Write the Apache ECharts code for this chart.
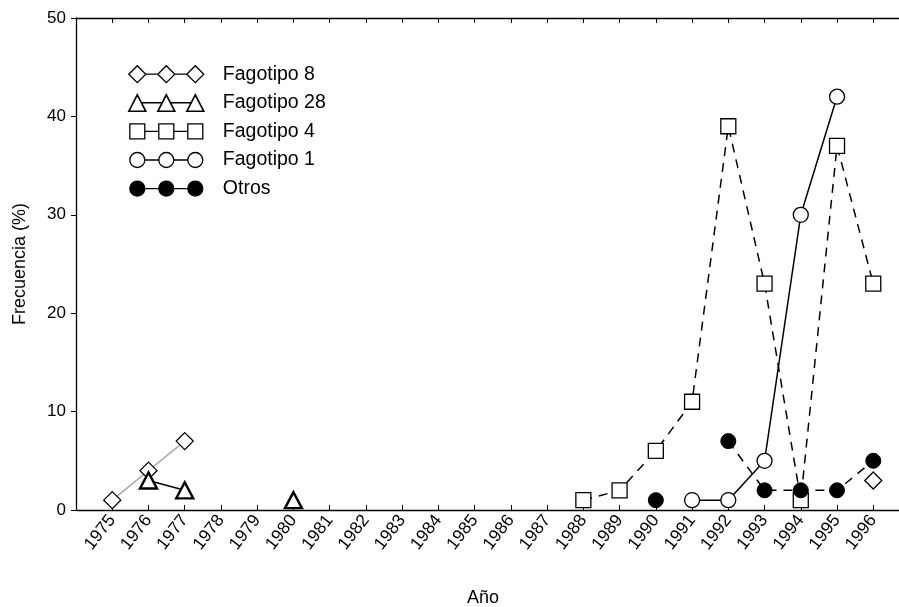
<!DOCTYPE html>
<html>
<head>
<meta charset="utf-8">
<script src="https://cdn.jsdelivr.net/npm/echarts@6/dist/echarts.min.js"></script>
<style>
html,body{margin:0;padding:0;background:#fff;}
#chart{width:899px;height:607px;}
</style>
</head>
<body>
<div id="chart"></div>
<script>
const years = [1975,1976,1977,1978,1979,1980,1981,1982,1983,1984,1985,1986,1987,1988,1989,1990,1991,1992,1993,1994,1995,1996];
const yTicks = [0,10,20,30,40,50];
const seriesNames = ['Fagotipo 8','Fagotipo 28','Fagotipo 4','Fagotipo 1','Otros'];
const fago8  = [1,4,7,null,null,null,null,null,null,null,null,null,null,null,null,null,null,null,null,null,null,3];
const fago28 = [null,3,2,null,null,1,null,null,null,null,null,null,null,null,null,null,null,null,null,null,null,null];
const fago4  = [null,null,null,null,null,null,null,null,null,null,null,null,null,1,2,6,11,39,23,1,37,23];
const fago1  = [null,null,null,null,null,null,null,null,null,null,null,null,null,null,null,null,1,1,5,30,42,null];
const otros  = [null,null,null,null,null,null,null,null,null,null,null,null,null,null,null,1,null,7,2,2,2,5];

function pairs(vals){ return years.map((y,i)=>[y, vals[i]]); }

// legend icons: three markers joined by a line (75 x 17 box)
const cx = [8.5, 37.5, 66.5];
function join(r){ return 'M'+(cx[0]+r)+' 8.5L'+(cx[1]-r)+' 8.5M'+(cx[1]+r)+' 8.5L'+(cx[2]-r)+' 8.5'; }
function diamondIcon(){ return 'path://' + cx.map(c=>'M'+(c-8.5)+' 8.5L'+c+' 0L'+(c+8.5)+' 8.5L'+c+' 17Z').join('') + join(8.5); }
function triIcon(){ return 'path://' + cx.map(c=>'M'+(c-8.5)+' 17L'+c+' 0.5L'+(c+8.5)+' 17Z').join('') + 'M'+(cx[0]+4.5)+' 8.5L'+(cx[1]-4.5)+' 8.5M'+(cx[1]+4.5)+' 8.5L'+(cx[2]-4.5)+' 8.5' + 'M0 0M75 17'; }
function rectIcon(){ return 'path://' + cx.map(c=>'M'+(c-7.5)+' 1L'+(c+7.5)+' 1L'+(c+7.5)+' 16L'+(c-7.5)+' 16Z').join('') + join(7.5) + 'M0 0M75 17'; }
function circIcon(){ const r=7.5; return 'path://' + cx.map(c=>'M'+(c-r)+' 8.5A'+r+' '+r+' 0 1 1 '+(c+r)+' 8.5A'+r+' '+r+' 0 1 1 '+(c-r)+' 8.5Z').join('') + join(r) + 'M0 0M75 17'; }

const chart = echarts.init(document.getElementById('chart'), null, {renderer:'canvas'});
const font = 'Liberation Sans, Arial, sans-serif';
const hollow = {color:'#fff', borderColor:'#000', borderWidth:1.3};
const xMin = 1974, xMax = 1996.71;

chart.setOption({
  backgroundColor:'#fff',
  animation:false,
  textStyle:{fontFamily:font, color:'#000'},
  grid:{left:76, top:18, right:0, bottom:97, containLabel:false, outerBoundsMode:'none'},
  legend:{
    orient:'vertical', left:128, top:64.2, padding:0,
    itemWidth:75, itemHeight:17, itemGap:8.6,
    textStyle:{fontSize:19.5, color:'#000', fontFamily:font, padding:[0,0,0,14]},
    data:[
      {name:seriesNames[0], icon:diamondIcon(), itemStyle:hollow},
      {name:seriesNames[1], icon:triIcon(), itemStyle:{color:'#fff', borderColor:'#000', borderWidth:1.6}},
      {name:seriesNames[2], icon:rectIcon(), itemStyle:hollow},
      {name:seriesNames[3], icon:circIcon(), itemStyle:hollow},
      {name:seriesNames[4], icon:circIcon(), itemStyle:{color:'#000', borderColor:'#000', borderWidth:1.3}}
    ]
  },
  xAxis:[{
    type:'value', min:xMin, max:xMax, interval:1,
    name:'Año', nameLocation:'middle', nameGap:79,
    nameTextStyle:{fontSize:18, color:'#000', fontFamily:font, padding:[0,9,0,0]},
    axisLine:{lineStyle:{color:'#000', width:1.3}},
    axisTick:{inside:true, length:5, lineStyle:{color:'#000'}},
    axisLabel:{rotate:52, fontSize:17.5, color:'#000', margin:7, fontFamily:font,
      formatter:function(v){ return years.indexOf(v) >= 0 ? String(v) : ''; }},
    splitLine:{show:false}
  },{
    type:'value', position:'top', min:xMin, max:xMax, interval:1,
    axisLine:{lineStyle:{color:'#000', width:1.3}},
    axisTick:{inside:true, length:5, lineStyle:{color:'#000'}},
    axisLabel:{show:false}, splitLine:{show:false}
  }],
  yAxis:{
    type:'value', min:yTicks[0], max:yTicks[yTicks.length-1], interval:10,
    name:'Frecuencia (%)', nameLocation:'middle', nameGap:47,
    nameTextStyle:{fontSize:18, color:'#000', fontFamily:font},
    axisLine:{show:true, lineStyle:{color:'#000', width:1.3}},
    axisTick:{show:true, inside:false, length:5, lineStyle:{color:'#000'}},
    axisLabel:{fontSize:17, color:'#000', margin:10, fontFamily:font},
    splitLine:{show:false}
  },
  series:[
    {name:seriesNames[0], type:'line', data:pairs(fago8), symbol:'diamond', symbolSize:17,
     itemStyle:hollow, lineStyle:{color:'#aaa', width:1.5}, connectNulls:false, z:2},
    {name:seriesNames[1], type:'line', data:pairs(fago28), symbol:'triangle', symbolSize:[17,16],
     itemStyle:{color:'#fff', borderColor:'#000', borderWidth:2.4}, lineStyle:{color:'#000', width:1.5}, connectNulls:false, z:3},
    {name:seriesNames[2], type:'line', data:pairs(fago4), symbol:'rect', symbolSize:15,
     itemStyle:hollow, lineStyle:{color:'#000', width:1.5, type:[9,7]}, connectNulls:false, z:4},
    {name:seriesNames[3], type:'line', data:pairs(fago1), symbol:'circle', symbolSize:15,
     itemStyle:hollow, lineStyle:{color:'#000', width:1.5}, connectNulls:false, z:5},
    {name:seriesNames[4], type:'line', data:pairs(otros), symbol:'circle', symbolSize:15,
     itemStyle:{color:'#000', borderColor:'#000', borderWidth:1}, lineStyle:{color:'#000', width:1.5, type:[9,7]}, connectNulls:false, z:6}
  ]
});
</script>
</body>
</html>
